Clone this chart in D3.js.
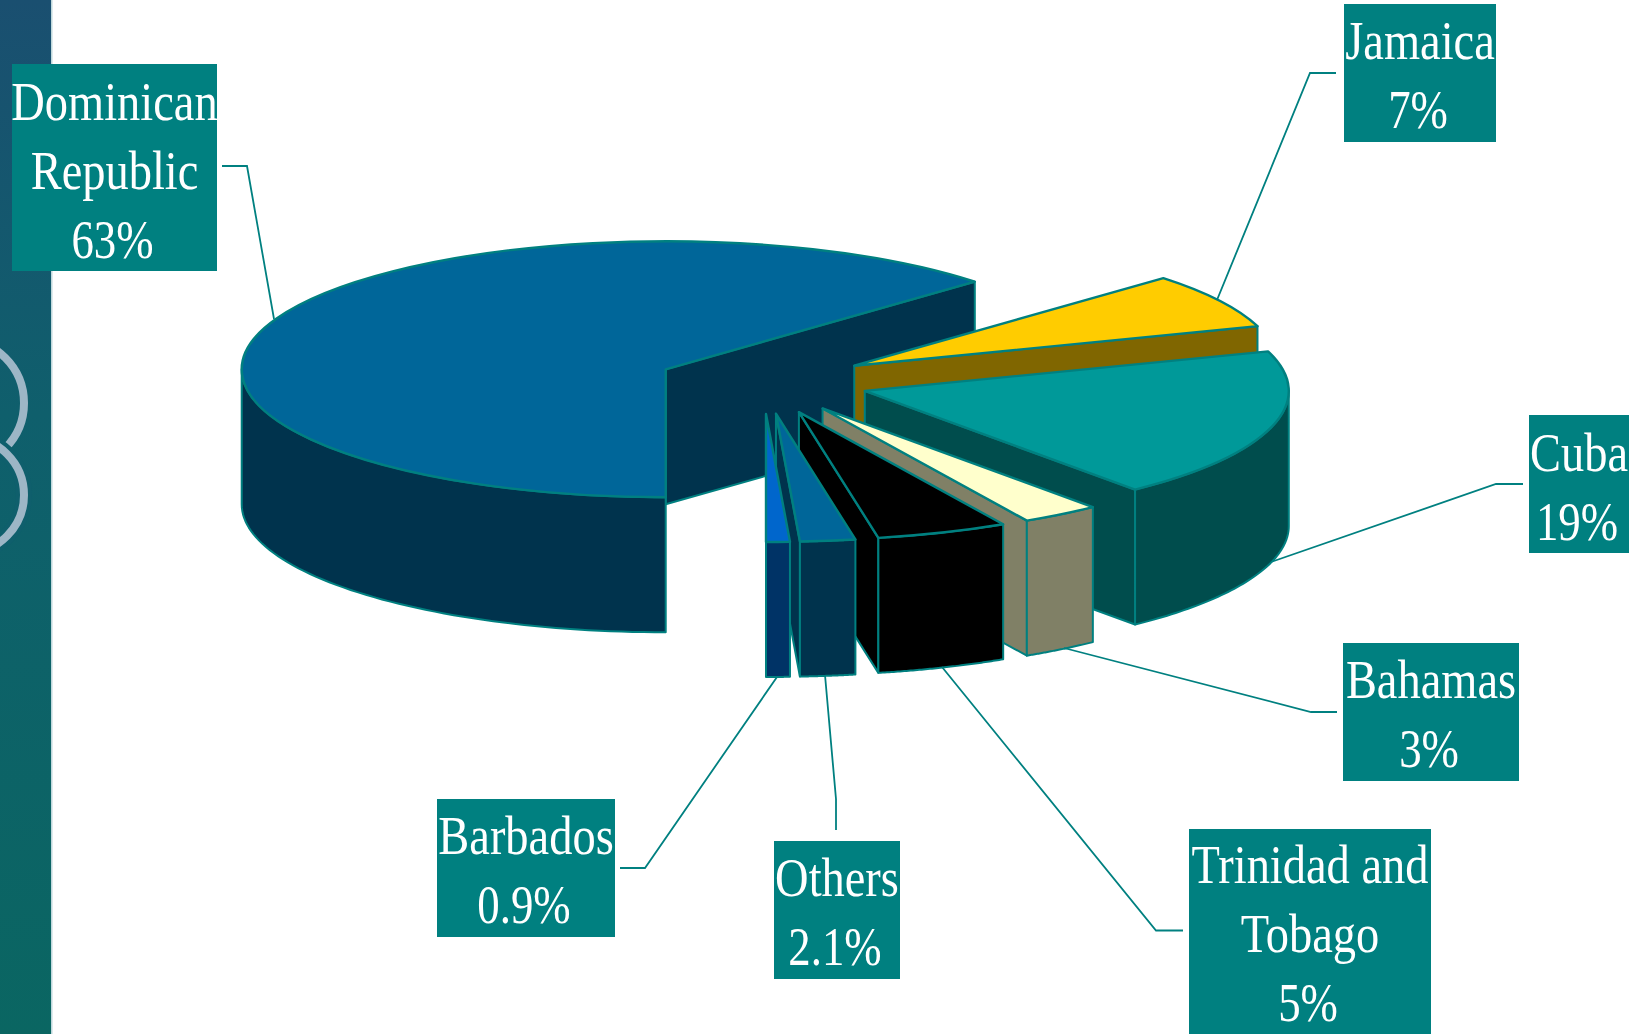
<!DOCTYPE html>
<html>
<head>
<meta charset="utf-8">
<script src="https://cdn.jsdelivr.net/npm/d3@7/dist/d3.min.js"></script>
<style>
html,body{margin:0;padding:0;background:#fff;overflow:hidden}
svg{display:block}
text{font-family:"Liberation Serif","Times New Roman",serif;fill:#fff}
.top,.side{vector-effect:non-scaling-stroke}
</style>
</head>
<body>
<script>
// ---- data ----
const categories = ["Dominican Republic","Jamaica","Cuba","Bahamas","Trinidad and Tobago","Others","Barbados"];
const shares = [63,7,19,3,5,2.1,0.9];
const shareLabels = ["63%","7%","19%","3%","5%","2.1%","0.9%"];
const labelLines = [["Dominican","Republic"],["Jamaica"],["Cuba"],["Bahamas"],["Trinidad and","Tobago"],["Others"],["Barbados"]];

// ---- styling and layout ----
const topColors  = ["#006699","#FFCC00","#009999","#FFFFCC","#000000","#006699","#0066CC"];
const sideColors = ["#00334D","#806600","#004D4D","#808066","#000000","#00334D","#003366"];
const teal = "#008080";
const labelBoxes = [
  [12,64,205,207],[1344,4,152,138],[1529,415,100,138],[1343,643,176,138],
  [1189,829,242,205],[774,841,126,138],[437,799,178,138]
];
const firstBaselines = [119.5,59,471,698,883,896,854];
const lineStep = 69.2;
const leaders = [
  [[222,166],[247,166],[274,319]],
  [[1336,73],[1310,73],[1217,300]],
  [[1523,484],[1496,484],[1271,562]],
  [[1337,712],[1311,712],[1064,648]],
  [[1183,930.5],[1156,930.5],[942,667]],
  [[836,830],[836,799],[825,675]],
  [[620,868],[645,868],[777,677]]
];
const W = 1629, H = 1034;
const cx = 763, cy = 382, rx = 424, ry = 128, depth = 135, explode = 0.25;

const svg = d3.select("body").append("svg").attr("width",W).attr("height",H).attr("viewBox",`0 0 ${W} ${H}`);
const defs = svg.append("defs");
const grad = defs.append("linearGradient").attr("id","strip").attr("x1",0).attr("x2",0).attr("y1",0).attr("y2",1);
grad.append("stop").attr("offset","0%").attr("stop-color","#1A4F70");
grad.append("stop").attr("offset","40%").attr("stop-color","#0F5F6C");
grad.append("stop").attr("offset","100%").attr("stop-color","#0A6662");

// left decorative band
defs.append("clipPath").attr("id","stripClip").append("rect").attr("width",51).attr("height",H);
svg.append("rect").attr("width",51).attr("height",H).attr("fill","url(#strip)");
svg.append("rect").attr("x",51).attr("width",1.5).attr("height",H).attr("fill","#BFD8DC");
const rings = svg.append("g").attr("clip-path","url(#stripClip)").attr("fill","none");
rings.append("circle").attr("cx",-40).attr("cy",403).attr("r",64).attr("stroke","#9DB6C6").attr("stroke-width",8);
rings.append("circle").attr("cx",-34).attr("cy",495).attr("r",58).attr("stroke","#0F5F6C").attr("stroke-width",16);
rings.append("circle").attr("cx",-34).attr("cy",495).attr("r",58).attr("stroke","#9DB6C6").attr("stroke-width",8);

// pie
const pie = d3.pie().sort(null).startAngle(Math.PI).endAngle(3*Math.PI);
const slices = pie(shares);
const X = d3.scaleLinear().domain([-1,1]).range([-rx,rx]);
const Y = d3.scaleLinear().domain([-1,1]).range([-ry,ry]);
const arcGen = d3.arc().innerRadius(0).outerRadius(rx);
const line = d3.line();

function rim(ax,ay,t,dz){ return [ax+X(Math.sin(t)), ay-Y(Math.cos(t))+dz]; }

const pieG = svg.append("g");
slices.forEach((s,i)=>{
  const mid = (s.startAngle+s.endAngle)/2;
  const ax = cx + explode*X(Math.sin(mid));
  const ay = cy - explode*Y(Math.cos(mid));
  const g = pieG.append("g");
  const side = pts => g.append("path").attr("class","side").attr("d",line(pts)+"Z")
      .attr("fill",sideColors[i]).attr("stroke",teal).attr("stroke-width",2).attr("stroke-linejoin","round");
  const wall = t => side([[ax,ay],rim(ax,ay,t,0),rim(ax,ay,t,depth),[ax,ay+depth]]);
  if (Math.sin(s.startAngle) < -1e-9) wall(s.startAngle);
  if (Math.sin(s.endAngle) > 1e-9) wall(s.endAngle);
  // outer curved side: the parts of the rim that face the viewer (90..270 degrees)
  [[Math.PI/2,1.5*Math.PI],[2.5*Math.PI,3.5*Math.PI]].forEach(([lo,hi])=>{
    const a = Math.max(lo,s.startAngle), b = Math.min(hi,s.endAngle);
    if (b > a) {
      const ts = d3.range(0,61).map(k=>a+(b-a)*k/60);
      side(ts.map(t=>rim(ax,ay,t,0)).concat(ts.slice().reverse().map(t=>rim(ax,ay,t,depth))));
    }
  });
  g.append("path").attr("class","top")
    .attr("transform",`translate(${ax},${ay}) scale(1,${ry/rx})`)
    .attr("d",arcGen({startAngle:s.startAngle,endAngle:s.endAngle}))
    .attr("fill",topColors[i]).attr("stroke",teal).attr("stroke-width",2.4).attr("stroke-linejoin","round");
});

// leader lines
svg.append("g").selectAll("path").data(leaders).join("path")
  .attr("d",d=>line(d)).attr("fill","none").attr("stroke",teal).attr("stroke-width",1.8);

// labels
const labG = svg.append("g");
categories.forEach((c,i)=>{
  const [x,y,w,h] = labelBoxes[i];
  labG.append("rect").attr("x",x).attr("y",y).attr("width",w).attr("height",h).attr("fill",teal);
  labelLines[i].concat([shareLabels[i]]).forEach((t,k)=>{
    const isShare = k===labelLines[i].length;
    labG.append("text")
      .attr("transform",`translate(${x+w/2-(isShare?2:0)},${firstBaselines[i]+k*lineStep}) scale(${isShare?0.83:0.86},1)`)
      .attr("text-anchor","middle").attr("font-size",54).text(t);
  });
});
</script>
</body>
</html>
